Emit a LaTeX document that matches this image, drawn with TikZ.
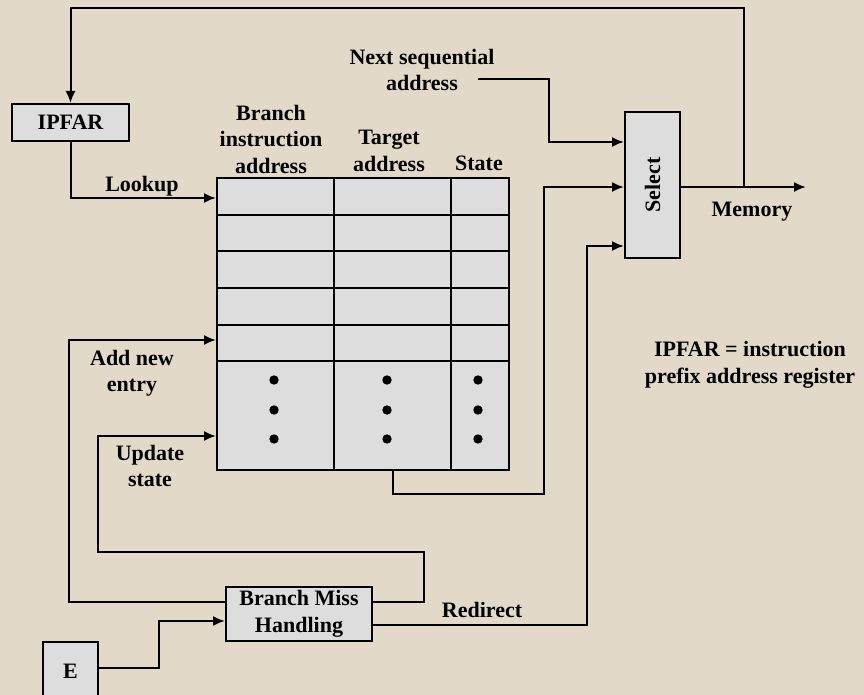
\documentclass[tikz,border=0pt]{standalone}
\usepackage{fontspec}
\setmainfont{Liberation Serif}
\usetikzlibrary{arrows.meta,calc}
\definecolor{bgbeige}{RGB}{226,217,201}
\definecolor{boxgray}{RGB}{221,221,221}
\tikzset{
  lw/.style={line width=2pt},
  box/.style={draw, lw, fill=boxgray, inner sep=0pt, align=center},
  cell/.style={draw, lw, fill=boxgray, inner sep=0pt},
  arr/.style={lw, -{Latex[length=12pt,width=10pt]}},
  wire/.style={lw},
  lbl/.style={align=center, inner sep=0pt},
}
\begin{document}
\begin{tikzpicture}[x=1pt,y=-1pt,font=\fontsize{22}{26.5}\selectfont\bfseries]
\fill[bgbeige] (0,0) rectangle (864,695);
\useasboundingbox (0,0) rectangle (864,695);
% table cells
\foreach \yy/\hh [count=\i] in {177/37,214/36,250/37,287/37,324/36,360/109}
  \foreach \xx/\ww [count=\j] in {216/117,333/117,450/58}
    {\node[cell, minimum width=\ww pt, minimum height=\hh pt, anchor=north west] (c\i\j) at (\xx,\yy) {};}
% dots
\foreach \xx in {274,387,478}
  \foreach \yy in {380,410,439}
    {\fill (\xx,\yy) circle (4.7pt);}
% column headers
\node[lbl] (h1) at (271,139) {Branch\\instruction\\address};
\node[lbl] (h2) at (389,151) {Target\\address};
\node[lbl] (h3) at (479,163) {State};
% boxes
\node[box, minimum width=117pt, minimum height=37pt] (ipfar) at (70.5,122.5) {IPFAR};
\node[box, minimum width=55pt, minimum height=146pt] (sel) at (652.5,185) {\rotatebox{90}{Select}};
\node[box, minimum width=146pt, minimum height=54pt] (bmh) at (299,614) {Branch Miss\\Handling};
\node[box, minimum width=55pt, minimum height=58pt, anchor=north] (ebox) at (70.5,641) {E};
% labels
\node[lbl] (nsa) at (422,70) {Next sequential\\address};
\node[lbl] (lookup) at (142,186) {Lookup};
\node[lbl] (addnew) at (132,373) {Add new\\entry};
\node[lbl] (upd) at (150,466) {Update\\state};
\node[lbl] (redir) at (482,610) {Redirect};
\node[lbl] (mem) at (752,212) {Memory};
\node[lbl] (note) at (750,365) {IPFAR = instruction\\prefix address register};
% coordinates
\coordinate (nsaout) at (478,79);
\coordinate (memend) at (806,187);
\coordinate (tap) at (744,187);
% connectors
\draw[arr] (sel.east |- memend) -- (memend);
\draw[arr] (tap) -- (tap |- 0,8) -| (ipfar.north);
\draw[arr] (ipfar.south) |- (c11.west |- 0,198);
\draw[arr] (nsaout) -| (549,142) -- (sel.west |- 0,142);
\draw[arr] (c62.south) |- (544,494) |- (sel.west |- 0,187);
\draw[arr] (bmh.east |- 0,625) -| (587,246) -- (sel.west |- 0,246);
\draw[arr] (bmh.west |- 0,602) -| (69,340) -- (c51.west |- 0,340);
\draw[arr] (bmh.east |- 0,602) -| (424,552) -| (98,436) -- (c61.west |- 0,436);
\draw[arr] (ebox.east |- 0,668) -| (159,621) -- (bmh.west |- 0,621);
\end{tikzpicture}
\end{document}
